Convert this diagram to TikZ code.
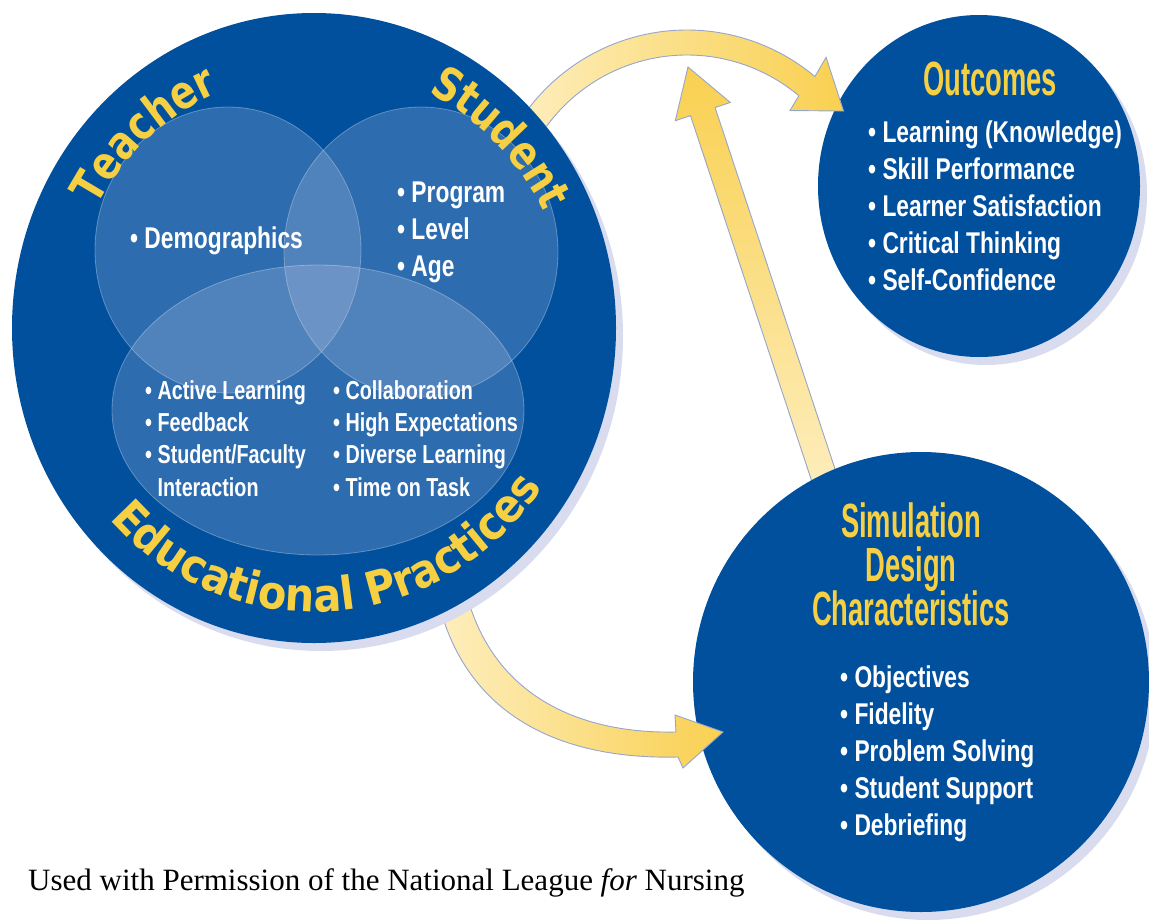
\documentclass[tikz,border=0pt]{standalone}
\usepackage{fontspec}
\setmainfont{Liberation Serif}
\newfontfamily\condfont{Liberation Sans}[FakeStretch=0.76]
\newfontfamily\titlefont{Liberation Sans}[FakeStretch=0.57]
\newfontfamily\arcfont{DejaVu Sans}[FakeStretch=0.82]
\newfontfamily\arcwidefont{DejaVu Sans}[FakeStretch=0.9]
\usepackage{tikz}
\usetikzlibrary{shapes.geometric, shadows, decorations.text}
\usepackage{xcolor}
\definecolor{nlnblue}{RGB}{0,80,158}
\definecolor{gold}{RGB}{246,208,66}
\definecolor{yelpale}{RGB}{253,238,190}
\definecolor{yeldeep}{RGB}{249,208,80}
\definecolor{edgeblue}{RGB}{150,165,205}
\definecolor{shadelav}{RGB}{216,220,238}
\definecolor{vennlav}{RGB}{205,210,238}
\tikzstyle{fatarrow} = [draw=edgeblue, line width=0.9pt, line join=miter]

\begin{document}
\begin{tikzpicture}
        [
            x=1pt, y=1pt,
            disc/.style={ellipse, fill=nlnblue, inner sep=0pt,
                drop shadow={shadow xshift=7pt, shadow yshift=-8pt, fill=shadelav, opacity=1}},
            venn/.style={ellipse, inner sep=0pt, fill=vennlav, fill opacity=0.22,
                draw=white, draw opacity=0.3, line width=0.8pt},
            item/.style={anchor=base west, inner sep=0pt, text=white,
                font=\condfont\bfseries\fontsize{30}{30}\selectfont},
            smallitem/.style={item, font=\condfont\bfseries\fontsize{26}{26}\selectfont},
            head/.style={anchor=base, inner sep=0pt, text=gold,
                font=\titlefont\bfseries\fontsize{48}{48}\selectfont},
            arcword/.style={decorate, decoration={text along path, text align=center, text color=gold,
                text={|\arcfont\bfseries\fontsize{46}{46}\selectfont|#1}}},
            arcwide/.style={decorate, decoration={text along path, text align=center, text color=gold,
                text={|\arcwidefont\bfseries\fontsize{46}{46}\selectfont|#1}}},
        ]
    \useasboundingbox (0,0) rectangle (1149,-924);

    \node[disc, minimum width=322pt, minimum height=342pt] (outc) at (979,-186) {};
    \draw[fatarrow, top color=yeldeep, bottom color=yelpale]
        (817.4,-498.2) -- (690.5,-115.7) -- (675.3,-120.7) -- (688,-67)
        -- (730.3,-102.5) -- (715.1,-107.5) -- (842.0,-490.0) -- cycle;
    \node[disc, minimum width=456pt, minimum height=460pt] (simu) at (921,-682) {};

    \draw[fatarrow, left color=yelpale, right color=yeldeep]
        ([shift={(152:199)}]687,-229) arc[start angle=152, end angle=50, radius=199]
        -- ([shift={(51:221)}]687,-229) -- ([shift={(37:196)}]687,-229) -- ([shift={(49:157)}]687,-229)
        -- ([shift={(50:174)}]687,-229) arc[start angle=50, end angle=152, radius=174] -- cycle;
    \draw[fatarrow, left color=yelpale, right color=yeldeep]
        (438,-600) .. controls (465,-715) and (560,-760) .. (678,-757)
        -- (683,-768) -- (723,-732) -- (675,-715) -- (676,-732)
        .. controls (578,-734) and (492,-695) .. (466,-592) -- cycle;

    \node[disc, minimum width=604pt, minimum height=630pt] (edu) at (314,-328) {};
    \node[venn, minimum width=266pt, minimum height=286pt] (teach) at (228,-250) {};
    \node[venn, minimum width=274pt, minimum height=290pt] (stud) at (421,-252) {};
    \node[venn, minimum width=412pt, minimum height=290pt] (prac) at (318,-410) {};

    \path[arcword=Teacher] ([shift={(162:247 and 255)}]314,-328)
        arc[start angle=162, end angle=102, x radius=247, y radius=255];
    \path[arcword=Student] ([shift={(75:256 and 263)}]314,-328)
        arc[start angle=75, end angle=15, x radius=256, y radius=263];
    \path[arcwide=Educational Practices] ([shift={(213:276 and 284)}]314,-328)
        arc[start angle=213, end angle=335, x radius=276, y radius=284];

    \node[item] (demo) at (130,-248) {• Demographics};
    \foreach \t [count=\i] in {Program, Level, Age}
        \node[item] (stud\i) at (397,{-165-37*\i}) {• \t};
    \foreach \t [count=\i] in {Active Learning, Feedback, Student/Faculty}
        \node[smallitem] (pracl\i) at (145,{-366.6-32.4*\i}) {• \t};
    \node[smallitem] (pracl4) at (145,-496) {\phantom{• }Interaction};
    \foreach \t [count=\i] in {Collaboration, High Expectations, Diverse Learning, Time on Task}
        \node[smallitem] (pracr\i) at (333,{-366.6-32.4*\i}) {• \t};

    \node[head] (outtitle) at (990,-95) {Outcomes};
    \foreach \t [count=\i] in {Learning (Knowledge), Skill Performance, Learner Satisfaction, Critical Thinking, Self-Confidence}
        \node[item] (out\i) at (868,{-105-37*\i}) {• \t};

    \foreach \t [count=\i] in {Simulation, Design, Characteristics}
        \node[head] (simtitle\i) at (911,{-493-44*\i}) {\t};
    \foreach \t [count=\i] in {Objectives, Fidelity, Problem Solving, Student Support, Debriefing}
        \node[item] (sim\i) at (840,{-651-36.8*\i}) {• \t};

    \node[anchor=base west, inner sep=0pt, font=\fontsize{31}{31}\selectfont] (credit) at (28,-890)
        {Used with Permission of the National League \textit{for} Nursing};
\end{tikzpicture}
\end{document}
